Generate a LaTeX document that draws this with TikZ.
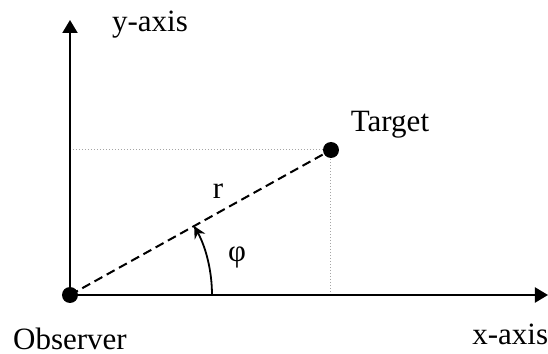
\documentclass[tikz,border=0pt]{standalone}
\usepackage{fontspec}
\setmainfont{Liberation Serif}
\usepackage{xcolor}
\usetikzlibrary{angles,arrows.meta}
\definecolor{GrisGuia}{RGB}{165,165,165}

\begin{document}
\begin{tikzpicture}[x=0.5pt,y=0.5pt,>={Triangle[length=6.5pt,width=7.5pt]},
    every node/.style={inner sep=0pt,font=\fontsize{15.5}{18}\selectfont}]
  \useasboundingbox (-70,-59) rectangle (478,295);
  \coordinate (O) at (0,0);
  \coordinate (X) at (478,0);
  \coordinate (Y) at (0,275);
  \coordinate (T) at (261,145);
  \coordinate (Ty) at (0,145);
  \coordinate (Tx) at (261,0);

  % lineas guia
  \draw[GrisGuia,line width=0.5pt,dash pattern=on 0.5pt off 1pt] (Ty) -- (T) -- (Tx);

  \draw[->,line width=1pt] (O) -- (X);
  \draw[->,line width=1pt] (O) -- (Y);
  \draw[line width=1pt,dash pattern=on 4.5pt off 2.5pt] (O) -- (T);

  \pic[draw,line width=0.9pt,-{Stealth[length=6pt,width=6pt]},angle radius=71pt]
       {angle=X--O--T};

  \fill (O) circle (4pt);
  \fill (T) circle (4pt);

  \node[anchor=base] (ylab) at (80,263) {y-axis};
  \node[anchor=base] (tlab) at (320,163) {Target};
  \node[anchor=base] (rlab) at (148,96) {r};
  \node (philab) at (167,38) {φ};
  \node[anchor=base] (olab) at (0,-55) {Observer};
  \node[anchor=base west] (xlab) at (402,-50) {x-axis};
\end{tikzpicture}
\end{document}
